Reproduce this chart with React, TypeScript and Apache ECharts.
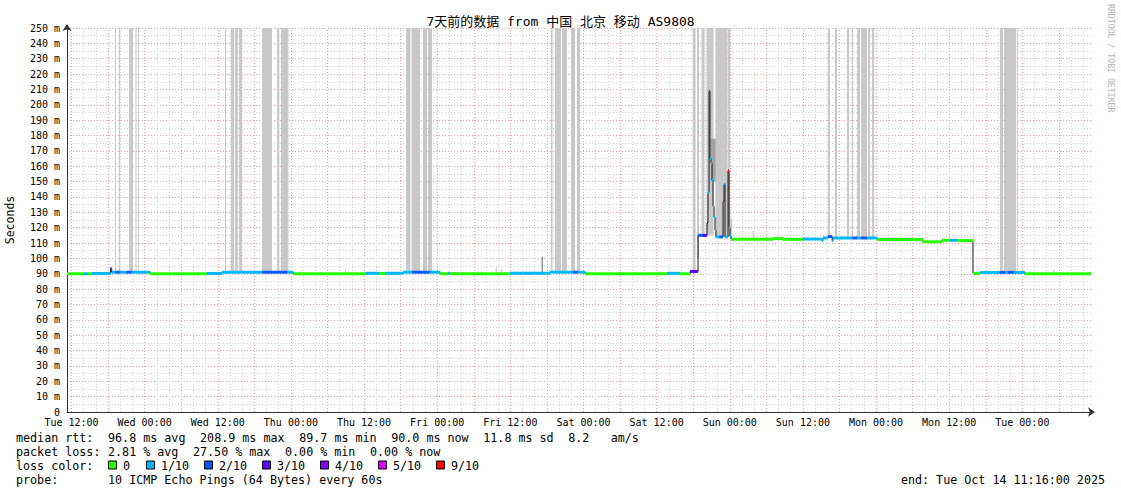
import React, { useEffect, useRef } from "react";
import * as echarts from "echarts";

// x values are hours since Tue Oct 7 2025 00:00
const X_MIN = 11.2667; // Tue 11:16
const X_MAX = 179.2667; // Tue Oct 14 11:16

const TICK_HOURS = [12, 24, 36, 48, 60, 72, 84, 96, 108, 120, 132, 144, 156, 168];
const TICK_LABELS = [
  "Tue 12:00", "Wed 00:00", "Wed 12:00", "Thu 00:00", "Thu 12:00", "Fri 00:00", "Fri 12:00",
  "Sat 00:00", "Sat 12:00", "Sun 00:00", "Sun 12:00", "Mon 00:00", "Mon 12:00", "Tue 00:00",
];

const LOSS_COLORS = ["#26ff00", "#00b8ff", "#0059ff", "#5e00ff", "#7e00ff", "#dd00ff", "#ff0000"];
const LOSS_LABELS = ["0", "1/10", "2/10", "3/10", "4/10", "5/10", "9/10"];
const SMOKE_SHADES = ["#c8c8c8", "#a4a4a4", "#5a5a5a"];

// median rtt segments: [startHour, endHour, median ms, loss level index]
const MEDIAN: number[][] = [
  [11.27, 13.9, 90, 0],
  [13.9, 14.7, 90, 1],
  [14.7, 15.3, 90, 0],
  [15.3, 18.4, 90.2, 1],
  [18.4, 18.6, 93.5, 2],
  [18.6, 19.2, 91, 1],
  [19.2, 20.0, 91, 2],
  [20.0, 21.0, 91, 1],
  [21.0, 21.9, 91, 2],
  [21.9, 24.9, 91, 1],
  [24.9, 34.2, 90, 0],
  [34.2, 36.7, 90.2, 1],
  [36.7, 43.3, 91, 1],
  [43.3, 47.4, 91, 2],
  [47.4, 48.4, 91, 1],
  [48.4, 60.2, 90, 0],
  [60.2, 62.5, 90.3, 1],
  [62.5, 63.5, 90.2, 0],
  [63.5, 66.4, 90.3, 1],
  [66.4, 67.9, 91, 1],
  [67.9, 70.8, 91, 2],
  [70.8, 72.5, 91, 1],
  [72.5, 73.7, 90, 0],
  [73.7, 74.1, 90.3, 1],
  [74.1, 83.9, 90, 0],
  [83.9, 90.5, 90.3, 1],
  [90.5, 94.3, 91, 1],
  [94.3, 95.1, 91, 2],
  [95.1, 96.3, 91, 1],
  [96.3, 109.7, 90, 0],
  [109.7, 111.8, 90.3, 1],
  [111.8, 113.5, 90, 0],
  [113.5, 114.8, 91.5, 3],
  [114.8, 115.6, 115, 2],
  [115.6, 116.27, 115, 3],
  [116.27, 116.43, 123, 3],
  [116.43, 116.6, 143, 1],
  [116.6, 116.76, 208.9, 2],
  [116.76, 116.93, 165, 1],
  [116.93, 117.09, 162, 1],
  [117.09, 117.25, 151, 1],
  [117.25, 117.42, 134, 1],
  [117.42, 117.58, 127, 1],
  [117.58, 117.74, 118.5, 1],
  [117.74, 118.3, 114, 1],
  [118.3, 118.9, 114, 2],
  [118.9, 119.06, 137, 2],
  [119.06, 119.22, 148, 2],
  [119.22, 119.71, 114, 1],
  [119.71, 119.88, 157, 6],
  [119.88, 120.04, 120, 1],
  [120.04, 120.2, 114.5, 1],
  [120.2, 127.1, 112.4, 0],
  [127.1, 128.7, 112.9, 0],
  [128.7, 132.0, 112.4, 0],
  [132.0, 135.13, 112.6, 1],
  [135.13, 135.3, 111.6, 1],
  [135.3, 136.1, 113.3, 1],
  [136.1, 136.8, 114.2, 2],
  [136.8, 136.94, 111.5, 1],
  [136.94, 140.1, 113.3, 1],
  [140.1, 140.9, 113.3, 2],
  [140.9, 141.5, 113.3, 1],
  [141.5, 142.5, 113.3, 2],
  [142.5, 144.2, 113.3, 1],
  [144.2, 151.7, 112.3, 0],
  [151.7, 154.8, 110.8, 0],
  [154.8, 156.1, 111.8, 0],
  [156.1, 157.3, 111.8, 1],
  [157.3, 159.9, 111.6, 0],
  [159.9, 161.1, 90.2, 0],
  [161.1, 164.3, 90.8, 1],
  [164.3, 165.2, 90.9, 2],
  [165.2, 165.6, 90.8, 1],
  [165.6, 166.6, 90.9, 2],
  [166.6, 168.4, 90.8, 1],
  [168.4, 179.27, 90, 0],
];

// smoke: [startHour, endHour, low ms, high ms, shade index]
const SMOKE: number[][] = [
  [19.15, 19.3, 91, 250, 0],
  [19.8, 19.95, 91, 250, 0],
  [21.45, 22.1, 91, 250, 0],
  [22.5, 22.65, 91, 250, 0],
  [22.9, 23.05, 91, 250, 0],
  [37.2, 37.35, 91, 250, 0],
  [38.17, 38.67, 91, 250, 0],
  [38.83, 39.3, 91, 250, 0],
  [39.5, 39.98, 91, 250, 0],
  [43.26, 44.9, 91, 250, 0],
  [45.72, 46.1, 91, 250, 0],
  [46.38, 47.6, 91, 250, 0],
  [56.88, 57.05, 90, 93, 0],
  [66.88, 67.6, 91, 250, 0],
  [67.8, 69.18, 91, 250, 0],
  [69.67, 70.33, 91, 250, 0],
  [70.49, 71.15, 91, 250, 0],
  [81.6, 81.8, 90, 94, 0],
  [82.4, 82.6, 90, 93, 0],
  [89.15, 89.3, 90, 101, 2],
  [90.67, 90.92, 91, 250, 0],
  [91.33, 92.32, 91, 250, 0],
  [92.48, 93.3, 91, 250, 0],
  [93.96, 94.61, 91, 250, 0],
  [94.94, 95.43, 91, 250, 0],
  [113.9, 114.4, 91, 250, 0],
  [114.63, 114.96, 100, 250, 0],
  [115.37, 115.86, 115, 250, 0],
  [116.19, 117.34, 115, 250, 0],
  [117.66, 119.55, 114, 250, 0],
  [119.63, 120.04, 114, 250, 0],
  [116.9, 117.7, 150, 178, 1],
  [120.04, 120.4, 113, 126, 0],
  [123.75, 123.95, 113, 118, 0],
  [136.11, 136.44, 113.5, 250, 0],
  [137.27, 137.6, 113.5, 250, 0],
  [139.24, 139.57, 113.5, 250, 0],
  [140.06, 140.23, 113.5, 250, 0],
  [140.88, 141.38, 113.5, 250, 0],
  [141.54, 142.52, 113.5, 250, 0],
  [142.69, 143.02, 113.5, 250, 0],
  [143.35, 143.68, 113.5, 250, 0],
  [164.34, 164.83, 91, 250, 0],
  [165.0, 166.96, 91, 250, 0],
  [167.1, 167.25, 91, 250, 0],
  [172.15, 172.35, 90, 91.5, 0],
  [173.1, 173.3, 90, 92.5, 0],
];

const TITLE = "7天前的数据 from 中国 北京 移动 AS9808";
const RTT_STATS = ["96.8 ms avg", "208.9 ms max", "89.7 ms min", "90.0 ms now", "11.8 ms sd", "8.2", "am/s"];
const RTT_COLS = [13, 26, 40, 53, 66, 78, 84];
const LOSS_STATS = ["2.81 % avg", "27.50 % max", "0.00 % min", "0.00 % now"];
const LOSS_COLS = [13, 25, 38, 50];
const PROBE = "10 ICMP Echo Pings (64 Bytes) every 60s";
const END_TEXT = "end: Tue Oct 14 11:16:00 2025";

const MONO = "'DejaVu Sans Mono', monospace";
const MONO_CJK = "'DejaVu Sans Mono', 'Noto Sans CJK SC', monospace";

export default function App() {
  const ref = useRef<HTMLDivElement>(null);

  useEffect(() => {
    if (!ref.current) return;
    const chart = echarts.init(ref.current, null, { renderer: "svg" });

    const medianPts: number[][] = [];
    MEDIAN.forEach((s) => {
      medianPts.push([s[0], s[2]]);
      medianPts.push([s[1], s[2]]);
    });

    const gridLines: any[] = [];
    for (let h = 12; h < X_MAX; h += 2) {
      const major = h % 6 === 0;
      gridLines.push({
        xAxis: h,
        lineStyle: { color: major ? "#f2a0a0" : "#d4d4d4", type: [1, 2], width: 1 },
      });
    }

    const legFont = `11.7px ${MONO}`;
    const cw = 7.08;
    const lx = 16;
    const ly = [437.5, 451.5, 465.5, 479.5];
    const graphics: any[] = [];
    const txt = (x: number, y: number, text: string, extra: any = {}) =>
      graphics.push({
        type: "text",
        x,
        y,
        silent: true,
        style: { text, font: legFont, fill: "#000", textVerticalAlign: "middle", ...extra },
      });

    txt(lx, ly[0], "median rtt:");
    RTT_STATS.forEach((t, i) => txt(lx + RTT_COLS[i] * cw, ly[0], t));
    txt(lx, ly[1], "packet loss:");
    LOSS_STATS.forEach((t, i) => txt(lx + LOSS_COLS[i] * cw, ly[1], t));
    txt(lx, ly[2], "loss color:");
    const boxX = [108, 146, 204, 262, 320, 378, 436];
    LOSS_LABELS.forEach((l, i) => {
      graphics.push({
        type: "rect",
        silent: true,
        shape: { x: boxX[i] + 0.5, y: ly[2] - 4.5, width: 8, height: 8 },
        style: { fill: LOSS_COLORS[i], stroke: "#000", lineWidth: 1 },
      });
      txt(boxX[i] + 15, ly[2], l);
    });
    txt(lx, ly[3], "probe:");
    txt(lx + 13 * cw, ly[3], PROBE);
    txt(1105, ly[3], END_TEXT, { textAlign: "right" });

    graphics.push({
      type: "text",
      x: 560.5,
      y: 21,
      silent: true,
      style: {
        text: TITLE,
        font: `13px ${MONO_CJK}`,
        fill: "#000",
        textAlign: "center",
        textVerticalAlign: "middle",
      },
    });
    graphics.push({
      type: "text",
      x: 10,
      y: 220,
      rotation: Math.PI / 2,
      silent: true,
      style: {
        text: "Seconds",
        font: `11.5px ${MONO}`,
        fill: "#000",
        textAlign: "center",
        textVerticalAlign: "middle",
      },
    });
    graphics.push({
      type: "text",
      x: 1110.5,
      y: 4,
      rotation: -Math.PI / 2,
      silent: true,
      style: {
        text: "RRDTOOL / TOBI OETIKER",
        font: `8.2px ${MONO}`,
        fill: "#b4b4b4",
        textAlign: "left",
        textVerticalAlign: "middle",
      },
    });

    const option: any = {
      animation: false,
      backgroundColor: "#ffffff",
      textStyle: { fontFamily: MONO },
      grid: { left: 67, right: 30, top: 28, bottom: 82, containLabel: false },
      xAxis: {
        type: "value",
        min: X_MIN,
        max: X_MAX,
        axisLine: {
          show: true,
          lineStyle: { color: "#333", width: 1 },
          symbol: ["none", "arrow"],
          symbolSize: [7, 7],
          symbolOffset: [0, 4],
        },
        axisTick: { show: false },
        splitLine: { show: false },
        axisLabel: {
          customValues: TICK_HOURS,
          formatter: (v: number) => {
            const i = TICK_HOURS.indexOf(Math.round(v));
            return i >= 0 ? TICK_LABELS[i] : "";
          },
          fontFamily: MONO,
          fontSize: 10,
          color: "#000",
          margin: 5,
        },
      },
      yAxis: {
        type: "value",
        min: 0,
        max: 250,
        interval: 10,
        axisLine: {
          show: true,
          lineStyle: { color: "#333", width: 1 },
          symbol: ["none", "arrow"],
          symbolSize: [7, 7],
          symbolOffset: [0, 4],
        },
        axisTick: { show: false },
        axisLabel: {
          formatter: (v: number) => (v === 0 ? "0" : `${v} m`),
          fontFamily: MONO,
          fontSize: 10,
          color: "#000",
          margin: 7,
        },
        splitLine: { show: true, lineStyle: { color: "#f2a0a0", type: [1, 2], width: 1 } },
        minorTick: { show: false, splitNumber: 2 },
        minorSplitLine: { show: true, lineStyle: { color: "#d4d4d4", type: [1, 2], width: 1 } },
      },
      graphic: graphics,
      series: [
        {
          type: "line",
          data: [],
          silent: true,
          z: 1,
          markLine: {
            silent: true,
            symbol: "none",
            z: 1,
            label: { show: false },
            emphasis: { disabled: true },
            data: gridLines,
          },
        },
        {
          type: "custom",
          z: 2,
          silent: true,
          clip: true,
          data: SMOKE,
          encode: { x: [0, 1], y: [2, 3] },
          renderItem: (params: any, api: any) => {
            const a = api.coord([api.value(0), api.value(3)]);
            const b = api.coord([api.value(1), api.value(2)]);
            return {
              type: "rect",
              shape: { x: a[0], y: a[1], width: Math.max(b[0] - a[0], 1), height: b[1] - a[1] },
              style: { fill: SMOKE_SHADES[api.value(4)] },
            };
          },
        },
        {
          type: "line",
          z: 3,
          silent: true,
          data: medianPts,
          showSymbol: false,
          symbol: "none",
          lineStyle: { color: "#1a1a1a", width: 1 },
        },
        {
          type: "custom",
          z: 4,
          silent: true,
          clip: true,
          data: MEDIAN,
          encode: { x: [0, 1], y: 2 },
          renderItem: (params: any, api: any) => {
            const a = api.coord([api.value(0), api.value(2)]);
            const b = api.coord([api.value(1), api.value(2)]);
            return {
              type: "rect",
              shape: { x: a[0], y: a[1] - 1.5, width: Math.max(b[0] - a[0], 1), height: 3 },
              style: { fill: LOSS_COLORS[api.value(3)] },
            };
          },
        },
      ],
    };

    chart.setOption(option);
    return () => chart.dispose();
  }, []);

  return (
    <div
      ref={ref}
      style={{ position: "fixed", left: 0, top: 0, width: 1121, height: 494, background: "#fff" }}
    />
  );
}
